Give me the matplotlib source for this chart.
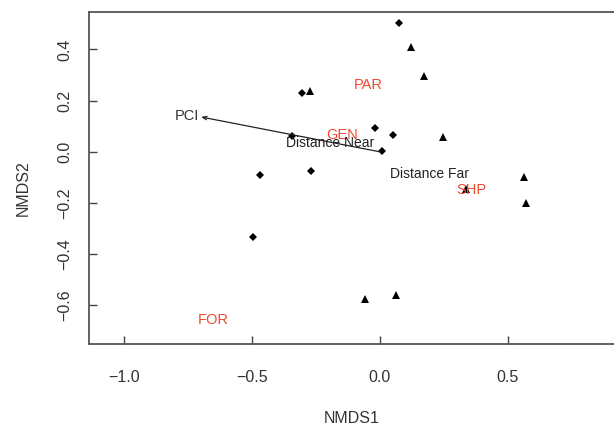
import matplotlib
matplotlib.use("Agg")
import matplotlib.pyplot as plt

plt.rcParams['font.family'] = ['Liberation Sans', 'DejaVu Sans']

# Site scores (NMDS1, NMDS2)
diamond_x = [0.076, -0.303, -0.018, 0.053, -0.344, 0.011, -0.466, -0.269, -0.496]
diamond_y = [0.502, 0.231, 0.091, 0.066, 0.060, 0.002, -0.090, -0.077, -0.334]
triangle_x = [0.124, 0.174, -0.274, 0.248, 0.563, 0.336, 0.573, -0.059, 0.064]
triangle_y = [0.410, 0.297, 0.237, 0.056, -0.097, -0.144, -0.201, -0.576, -0.560]

# Group (species/category) labels in red
group_labels = ["PAR", "GEN", "SHP", "FOR"]
group_x = [-0.043, -0.146, 0.357, -0.649]
group_y = [0.260, 0.067, -0.150, -0.659]

# Fitted vector
vector_label = "PCI"
vector_x = -0.698
vector_y = 0.136
vector_label_x = -0.752
vector_label_y = 0.140

# Factor centroids
factor_labels = ["Distance Near", "Distance Far"]
factor_x = [-0.193, 0.193]
factor_y = [0.034, -0.086]

xticks = [-1.0, -0.5, 0.0, 0.5]
yticks = [-0.6, -0.4, -0.2, 0.0, 0.2, 0.4]

fig = plt.figure(figsize=(6.14, 4.23), dpi=100)
ax = fig.add_axes([89 / 614, 1 - 343.5 / 423, 527 / 614, 331.5 / 423])
ax.set_xlim(-1.1355, 0.9232)
ax.set_ylim(-0.749, 0.546)

ax.plot(diamond_x, diamond_y, linestyle='none', marker='D', markersize=3.7,
        color='black', markeredgewidth=0)
ax.plot(triangle_x, triangle_y, linestyle='none', marker='^', markersize=5.3,
        color='black', markeredgewidth=0)

red = '#ee4a2e'
for lab, x, y in zip(group_labels, group_x, group_y):
    ax.text(x, y, lab, color=red, fontsize=10.5, ha='center', va='center')

ax.annotate('', xy=(vector_x, vector_y), xytext=(0, 0),
            arrowprops=dict(arrowstyle='->,head_length=0.3,head_width=0.12',
                            color='#222222', lw=0.9, shrinkA=0, shrinkB=0))
ax.text(vector_label_x, vector_label_y, vector_label, color='#333333',
        fontsize=10.5, ha='center', va='center')

for lab, x, y in zip(factor_labels, factor_x, factor_y):
    ax.text(x, y, lab, color='#222222', fontsize=10, ha='center', va='center')

ax.set_xticks(xticks)
ax.set_xticklabels([f"{t:.1f}".replace('-', '\u2212') for t in xticks])
ax.set_yticks(yticks)
ax.set_yticklabels([f"{t:.1f}".replace('-', '\u2212') for t in yticks],
                   rotation=90, va='center')
ax.tick_params(direction='in', length=6, width=1.0, colors='#444444',
               labelcolor='#333333', labelsize=11.5)
ax.tick_params(axis='x', pad=19)
ax.tick_params(axis='y', pad=12)

for s in ax.spines.values():
    s.set_color('#555555')
    s.set_linewidth(1.3)

ax.set_xlabel("NMDS1", fontsize=11.5, color='#333333')
ax.set_ylabel("NMDS2", fontsize=11.5, color='#333333')
ax.xaxis.set_label_coords((352 - 89) / 527, -(418 - 343.5) / 331.5)
ax.yaxis.set_label_coords(-(89 - 23) / 527, 0.47)
ax.xaxis.label.set_va('center')
ax.yaxis.label.set_va('center')

fig.savefig("out.png", dpi=100)
